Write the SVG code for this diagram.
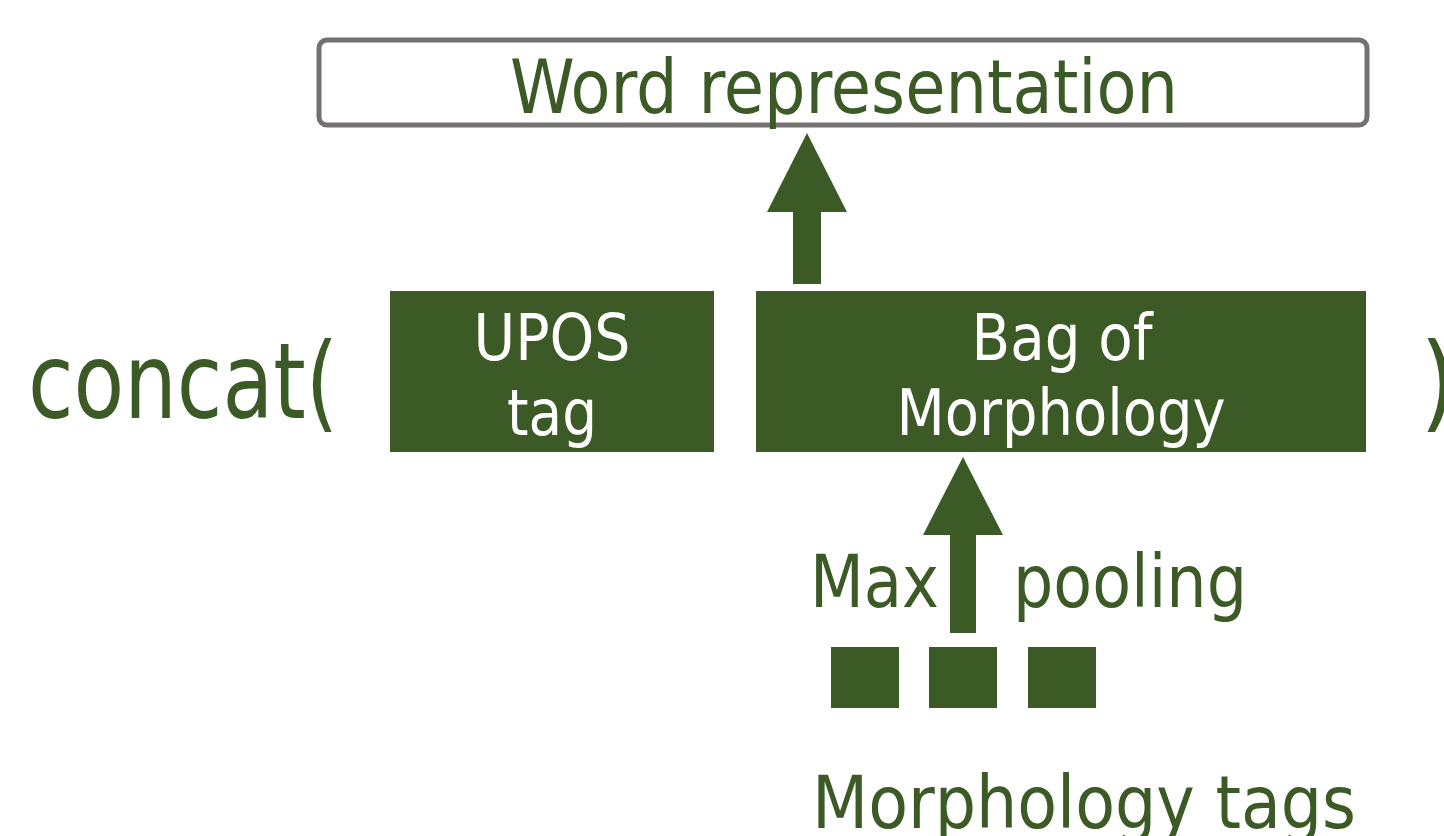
<svg xmlns="http://www.w3.org/2000/svg" width="1444" height="836" viewBox="0 0 1444 836">
<style>
.g{fill:#3B5A25}
.t{font-family:"DejaVu Sans Condensed","DejaVu Sans",sans-serif}
.gt{fill:#3B5A25}
.wt{fill:#FFFFFF}
</style>
<rect width="1444" height="836" fill="#FFFFFF"/>
<g id="word-representation">
<rect x="319" y="40" width="1048" height="85" rx="8" fill="#FFFFFF" stroke="#767171" stroke-width="5"/>
<text class="t gt" x="510" y="113" font-size="75" textLength="668" lengthAdjust="spacingAndGlyphs">Word representation</text>
</g>
<g id="concat-open">
<text class="t gt" x="28" y="418" font-size="105" textLength="310" lengthAdjust="spacingAndGlyphs">concat(</text>
</g>
<g id="upos-tag">
<rect x="390" y="291" width="324" height="161" class="g"/>
<text class="t wt" x="552" y="360" font-size="64" text-anchor="middle" textLength="157" lengthAdjust="spacingAndGlyphs">UPOS</text>
<text class="t wt" x="552" y="435" font-size="64" text-anchor="middle" textLength="90" lengthAdjust="spacingAndGlyphs">tag</text>
</g>
<g id="bag-of-morphology">
<rect x="756" y="291" width="610" height="161" class="g"/>
<text class="t wt" x="1062" y="360" font-size="64" text-anchor="middle" textLength="181" lengthAdjust="spacingAndGlyphs">Bag of</text>
<text class="t wt" x="1061" y="435" font-size="64" text-anchor="middle" textLength="329" lengthAdjust="spacingAndGlyphs">Morphology</text>
</g>
<g id="concat-close">
<text class="t gt" x="1420" y="418" font-size="105">)</text>
</g>
<g id="morphology-tags">
<rect x="831" y="647" width="68" height="61" class="g"/>
<rect x="929" y="647" width="68" height="61" class="g"/>
<rect x="1028" y="647" width="68" height="61" class="g"/>
<text class="t gt" x="812" y="828" font-size="73" textLength="544" lengthAdjust="spacingAndGlyphs">Morphology tags</text>
</g>
<g id="connectors">
<polygon class="g" points="807,133 847,212 821,212 821,284 793,284 793,212 767,212"/>
<polygon class="g" points="963,457 1003,535 976,535 976,633 950,633 950,535 923,535"/>
<text class="t gt" x="810" y="607" font-size="73" textLength="129" lengthAdjust="spacingAndGlyphs">Max</text>
<text class="t gt" x="1013" y="607" font-size="73" textLength="234" lengthAdjust="spacingAndGlyphs">pooling</text>
</g>
</svg>
